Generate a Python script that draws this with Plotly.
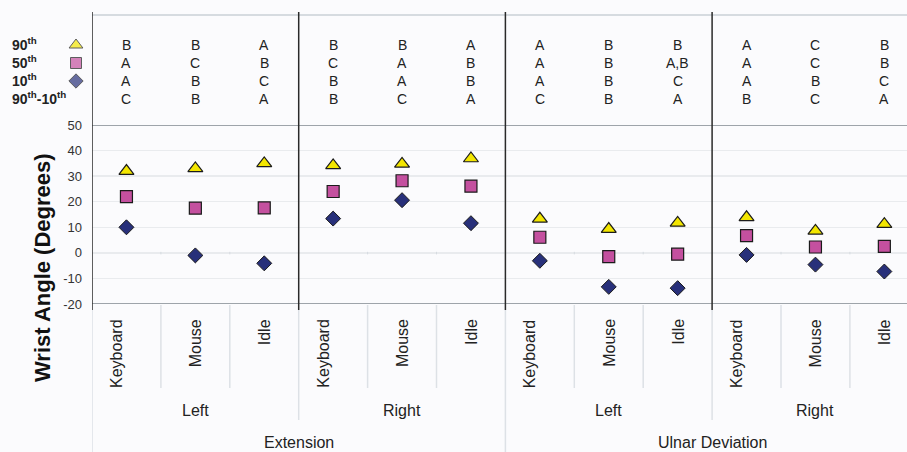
import plotly.graph_objects as go

# ---------------- data ----------------
tasks = ["Keyboard", "Mouse", "Idle"] * 4
sides = ["Left", "Right", "Left", "Right"]
motions = ["Extension", "Ulnar Deviation"]

p90 = [32.0, 33.0, 35.0, 34.2, 34.8, 36.9, 13.3, 9.3, 11.7, 13.9, 8.6, 11.2]
p50 = [22.0, 17.5, 17.6, 24.0, 28.2, 26.1, 6.1, -1.5, -0.5, 6.7, 2.3, 2.5]
p10 = [10.0, -1.0, -4.1, 13.4, 20.6, 11.6, -3.1, -13.3, -13.8, -0.8, -4.6, -7.3]

row_labels = ["<b>90<sup>th</sup></b>", "<b>50<sup>th</sup></b>",
              "<b>10<sup>th</sup></b>", "<b>90<sup>th</sup>-10<sup>th</sup></b>"]
letters_90 = ["B", "B", "A", "B", "B", "A", "A", "B", "B", "A", "C", "B"]
letters_50 = ["A", "C", "B", "C", "A", "B", "A", "B", "A,B", "A", "C", "B"]
letters_10 = ["A", "B", "C", "B", "A", "B", "A", "B", "C", "A", "B", "C"]
letters_rng = ["C", "B", "A", "B", "C", "A", "C", "B", "A", "B", "C", "A"]

y_ticks = [50, 40, 30, 20, 10, 0, -10, -20]

# ---------------- layout helpers ----------------
W, H = 907, 452
X0 = 92          # left edge of plot in px
CW = 68.9        # category width in px
Y_TOP, Y_BOT = 125, 304


def py(p):
    return 1 - p / H


FONT = "Arial, Liberation Sans, sans-serif"
n = len(tasks)
xs = list(range(n))

fig = go.Figure()

TRI = "#f3e600"
SQ = "#c4509f"
DIA = "#28307a"
EDGE = "#1b1b1b"

fig.add_trace(go.Scatter(x=xs, y=p10, mode="markers", cliponaxis=False,
                         marker=dict(symbol="diamond", size=11.5, color=DIA,
                                     line=dict(color=EDGE, width=1))))
fig.add_trace(go.Scatter(x=xs, y=p50, mode="markers", cliponaxis=False,
                         marker=dict(symbol="square", size=12, color=SQ,
                                     line=dict(color=EDGE, width=1.2))))
fig.add_trace(go.Scatter(x=xs, y=p90, mode="markers", cliponaxis=False,
                         marker=dict(symbol="triangle-up", size=13, color=TRI,
                                     line=dict(color=EDGE, width=1.2))))

# legend key markers on a pixel overlay axis
leg_rows_y = [45, 63, 81, 99]
fig.add_trace(go.Scatter(x=[76, 76, 76], y=leg_rows_y[:3], mode="markers",
                         xaxis="x2", yaxis="y2", cliponaxis=False,
                         marker=dict(symbol=["triangle-up", "square", "diamond"],
                                     size=[12, 11, 11], color=[TRI, SQ, DIA],
                                     line=dict(color=EDGE, width=1))))

shapes = []
ann = []

# horizontal frame lines
shapes.append(dict(type="line", xref="paper", yref="paper", x0=X0 / W, x1=1,
                   y0=py(15), y1=py(15), line=dict(color="#d6dbe0", width=2)))
for yv in (50, -20):
    shapes.append(dict(type="line", xref="paper", yref="y", x0=X0 / W, x1=1,
                       y0=yv, y1=yv, line=dict(color="#9ea4aa", width=2)))

# vertical separators
for b in [i - 0.5 for i in range(n + 1)]:
    if b < -0.5 or b > n - 0.5:
        continue
    k = int(b + 0.5)
    if k % 3 == 0:
        shapes.append(dict(type="line", xref="x", yref="paper", x0=b, x1=b,
                           y0=py(12), y1=py(310), line=dict(color="#2a2a2a", width=1.5)))
        bottom = 452 if k % 6 == 0 else 420
        shapes.append(dict(type="line", xref="x", yref="paper", x0=b, x1=b,
                           y0=py(310), y1=py(bottom), line=dict(color="#dde1e6", width=1.5)))
    else:
        shapes.append(dict(type="line", xref="x", yref="paper", x0=b, x1=b,
                           y0=py(305), y1=py(388), line=dict(color="#dde1e6", width=1.5)))
        shapes.append(dict(type="line", xref="x", yref="y", x0=b, x1=b,
                           y0=0.4, y1=-0.6, line=dict(color="#d6dbe0", width=1)))

# letter table
for row_i, row in enumerate([letters_90, letters_50, letters_10, letters_rng]):
    for i, t in enumerate(row):
        ann.append(dict(x=i, y=py(leg_rows_y[row_i]), xref="x", yref="paper",
                        text=t, showarrow=False, xanchor="center", yanchor="middle",
                        font=dict(family=FONT, size=14, color="#222")))
    ann.append(dict(x=10 / W, y=py(leg_rows_y[row_i] - 1), xref="paper", yref="paper",
                    text=row_labels[row_i], showarrow=False, xanchor="left",
                    yanchor="middle", font=dict(family=FONT, size=14, color="#222")))

# category labels
for i, t in enumerate(tasks):
    ann.append(dict(x=i, y=py(317), xref="x", yref="paper", text=t, textangle=-90,
                    showarrow=False, xanchor="center", yanchor="top",
                    xshift=-10 if t == "Keyboard" else 0,
                    font=dict(family=FONT, size=16, color="#222")))
for g, s in enumerate(sides):
    ann.append(dict(x=g * 3 + 1, y=py(410), xref="x", yref="paper", text=s,
                    showarrow=False, xanchor="center", yanchor="middle",
                    font=dict(family=FONT, size=16, color="#222")))
for g, m in enumerate(motions):
    ann.append(dict(x=g * 6 + 2.5, y=py(442), xref="x", yref="paper", text=m,
                    showarrow=False, xanchor="center", yanchor="middle",
                    font=dict(family=FONT, size=16, color="#222")))

# y title
ann.append(dict(x=42 / W, y=py(268), xref="paper", yref="paper",
                text="<b>Wrist Angle (Degrees)</b>", textangle=-90, showarrow=False,
                xanchor="center", yanchor="middle",
                font=dict(family=FONT, size=22, color="#111")))

fig.update_layout(
    width=W, height=H,
    margin=dict(l=0, r=0, t=0, b=0, pad=0, autoexpand=False),
    paper_bgcolor="#fbfbfd",
    plot_bgcolor="rgba(0,0,0,0)",
    showlegend=False,
    shapes=shapes,
    annotations=ann,
    xaxis=dict(domain=[X0 / W, 1], range=[-0.5, -0.5 + (W - X0) / CW],
               showgrid=False, zeroline=False, showticklabels=False, automargin=False,
               ticks="", showline=False, fixedrange=True),
    yaxis=dict(domain=[py(Y_BOT), py(Y_TOP)], range=[-20, 50],
               tickvals=y_ticks, ticktext=[str(v) for v in y_ticks], automargin=False,
               showgrid=True, gridcolor="#e9ebee", gridwidth=1.5,
               zeroline=False, showline=False, ticks="", ticklabelstandoff=9,
               tickfont=dict(family=FONT, size=13, color="#333"), fixedrange=True),
    xaxis2=dict(domain=[0, 1], range=[0, W], visible=False, anchor="y2",
                automargin=False, fixedrange=True),
    yaxis2=dict(domain=[0, 1], range=[H, 0], visible=False, anchor="x2",
                automargin=False, fixedrange=True),
)

fig.write_html("out.html", config={"displayModeBar": False, "staticPlot": True},
               post_script="document.body.style.margin='0px';document.body.style.overflow='hidden';")
